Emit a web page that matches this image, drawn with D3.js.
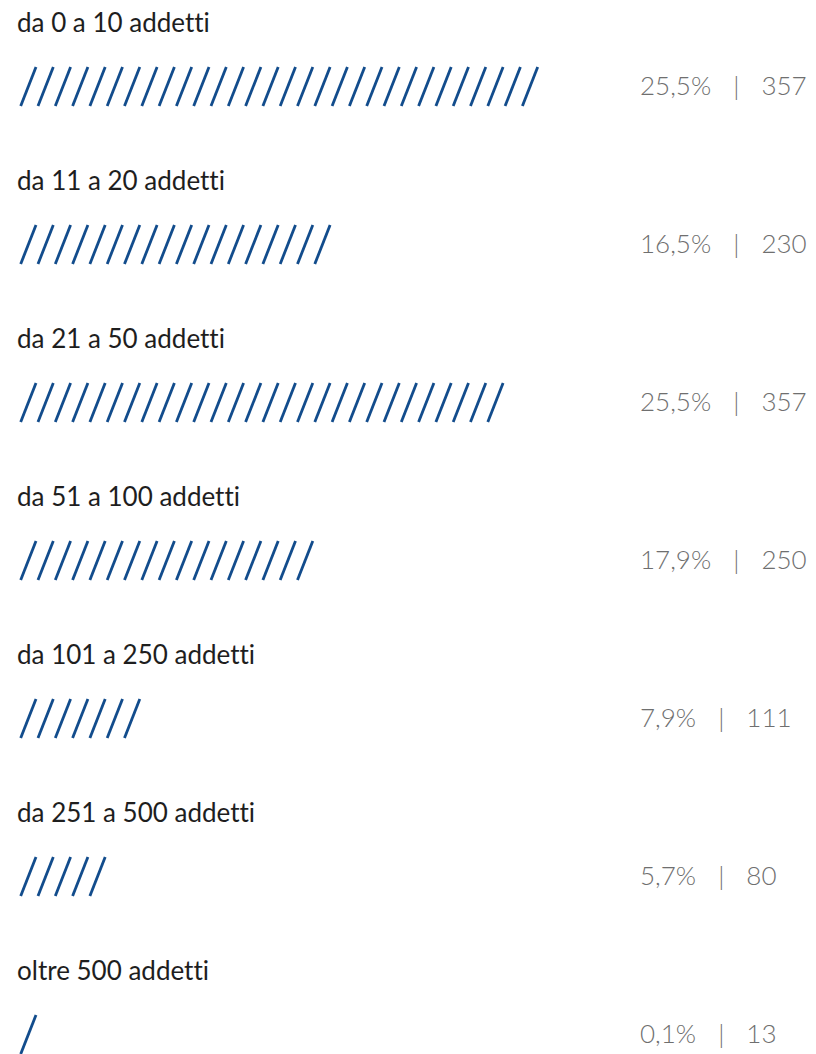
<!DOCTYPE html>
<meta charset="utf-8">
<title>Addetti</title>
<script src="https://d3js.org/d3.v7.min.js"></script>
<style>
  body { margin: 0; background: #fff; }
  text.label {
    font-family: Lato, "Open Sans", sans-serif;
    font-size: 26px;
    font-variant-ligatures: none;
    fill: #1e1e1e;
  }
  text.value {
    font-family: Lato, "Open Sans", sans-serif;
    font-size: 26px;
    font-weight: 300;
    fill: #6f6f6f;
  }
</style>
<div id="chart"></div>
<script>
// data
var categories = ["da 0 a 10 addetti", "da 11 a 20 addetti", "da 21 a 50 addetti",
                  "da 51 a 100 addetti", "da 101 a 250 addetti", "da 251 a 500 addetti",
                  "oltre 500 addetti"];
var percentages = ["25,5%", "16,5%", "25,5%", "17,9%", "7,9%", "5,7%", "0,1%"];
var counts = [357, 230, 357, 250, 111, 80, 13];
// number of "/" marks drawn in each row
var slashes = [30, 18, 28, 17, 7, 5, 1];

var width = 816, height = 1054;

var svg = d3.select("#chart")
  .append("svg")
    .attr("width", width)
    .attr("height", height);

var rows = categories.map(function(c, i) {
  return {cat: c, pct: percentages[i], n: counts[i], marks: slashes[i]};
});

// one band per category, label baseline at top of band
var y = d3.scaleBand()
  .domain(categories)
  .range([32, 32 + 158 * categories.length]);

// slash index -> x of its foot
var x = d3.scaleLinear()
  .domain([0, 30])
  .range([20.7, 20.7 + 30 * 17.3]);

var slashW = 15.3, slashTop = 35, slashBottom = 74;

var row = svg.selectAll("g.row")
  .data(rows)
  .enter()
  .append("g")
    .attr("class", "row")
    .attr("transform", function(d) { return "translate(0," + y(d.cat) + ")"; });

row.append("text")
  .attr("class", "label")
  .attr("x", 17)
  .attr("y", 0)
  .text(function(d) { return d.cat; });

row.selectAll("line")
  .data(function(d) { return d3.range(d.marks); })
  .enter()
  .append("line")
    .attr("x1", function(i) { return x(i); })
    .attr("y1", slashBottom)
    .attr("x2", function(i) { return x(i) + slashW; })
    .attr("y2", slashTop)
    .attr("stroke", "#124c8c")
    .attr("stroke-width", 2.8);

var val = row.append("text")
  .attr("class", "value")
  .attr("x", 640)
  .attr("y", 63);

val.append("tspan").text(function(d) { return d.pct; });
val.append("tspan").attr("dx", 22).text("|");
val.append("tspan").attr("dx", 22).text(function(d) { return d.n; });
</script>
